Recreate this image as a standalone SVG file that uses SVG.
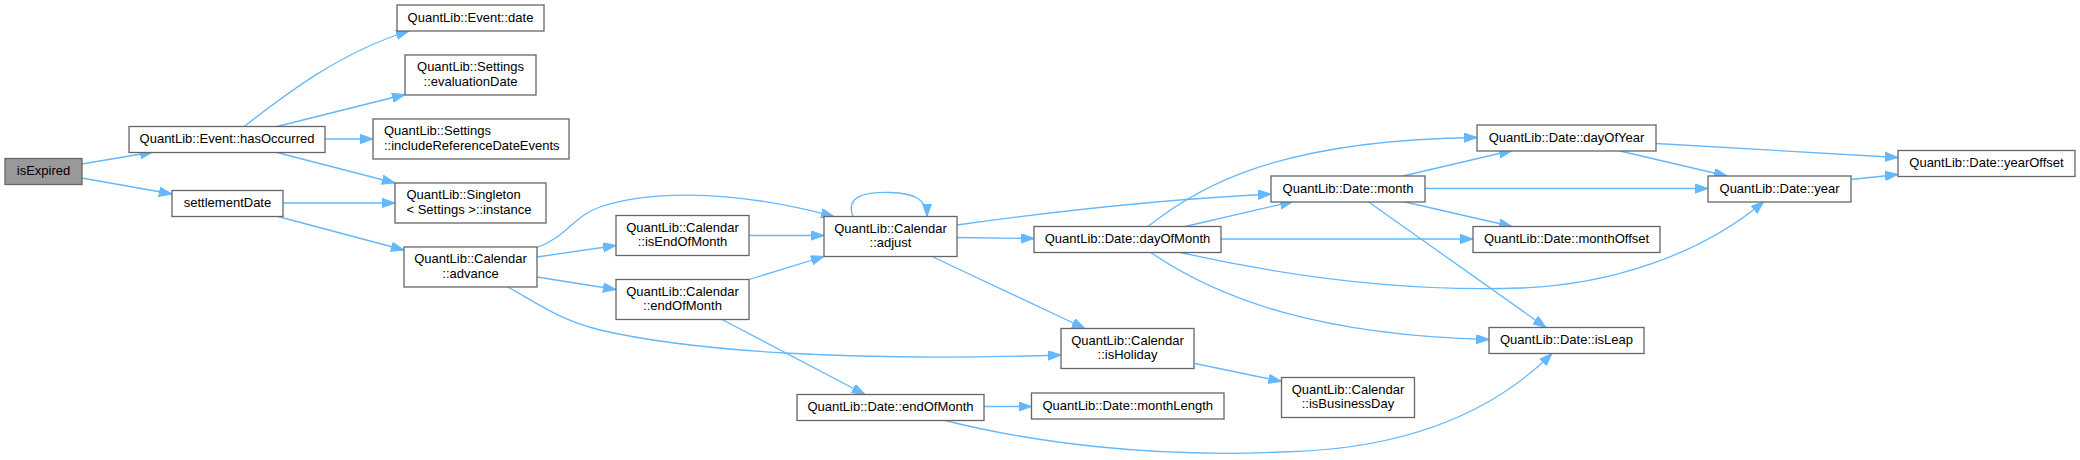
<svg xmlns="http://www.w3.org/2000/svg" width="2080" height="460" viewBox="0 0 2080 460">
<style>
.n rect{fill:#fff;stroke:#666;stroke-width:1.3}
.n.root rect{fill:#999}
.n text{font-family:"Liberation Sans",Arial,sans-serif;font-size:13px;fill:#000;text-anchor:middle}
.n text.l{text-anchor:start}
#edges path{fill:none;stroke:#63B8FF;stroke-width:1.3;marker-end:url(#ah)}
</style>
<defs>
<marker id="ah" markerUnits="userSpaceOnUse" markerWidth="14" markerHeight="10" refX="13" refY="4.65" orient="auto">
<path d="M0,0 L13,4.65 L0,9.3 Z" fill="#63B8FF" stroke="#63B8FF" stroke-width="1"/>
</marker>
</defs>
<rect width="2080" height="460" fill="#fff"/>
<g id="edges">
<path d="M82,164 L153,152"/>
<path d="M82,178 L172,194"/>
<path d="M244,126.5 C285,95 340,52 409,31"/>
<path d="M277,126.5 L405,94.5"/>
<path d="M325,139 L373,139"/>
<path d="M277,152.5 L395,183"/>
<path d="M283,203 L395,203"/>
<path d="M278,216.5 L404,250"/>
<path d="M537,247.5 C565,238 575,215 600,207 C640,193 720,186 834,216.5"/>
<path d="M537,257 L616,245.5"/>
<path d="M537,277 L616,289.5"/>
<path d="M508,287 C540,305 560,320 600,330 C690,351 850,362 1061,355"/>
<path d="M749,235.5 L824,235.5"/>
<path d="M749,279.5 L824,256.5"/>
<path d="M722,319.5 L865,394.5"/>
<path d="M853,216.5 C845,196 865,192 890,192.5 C915,193 927,200 927,216.5"/>
<path d="M957,225 C1050,212 1150,200 1271,194"/>
<path d="M957,237.5 L1034,238.5"/>
<path d="M933,257 L1085,328.5"/>
<path d="M1148,226.5 C1200,185 1280,140 1477,137.5"/>
<path d="M1185,226.5 L1293,201.5"/>
<path d="M1221,239 L1473,239"/>
<path d="M1178,252 C1280,275 1400,292 1520,288 C1610,285 1700,255 1764,201.5"/>
<path d="M1150,252 C1220,300 1320,335 1489,339.5"/>
<path d="M1403,176 L1512,150.5"/>
<path d="M1425,188.5 L1708,188.5"/>
<path d="M1403,201.5 L1512,226.5"/>
<path d="M1368,201.5 L1546,327.5"/>
<path d="M1656,143.5 L1898,157.5"/>
<path d="M1620,151 L1727,176"/>
<path d="M1851,179.5 L1898,174.5"/>
<path d="M1195,363.5 L1281.5,381.5"/>
<path d="M984,406.5 L1031.5,406.5"/>
<path d="M943,420 C1030,442 1150,458 1280,452 C1400,450 1490,415 1552,353.5"/>
</g>
<g id="isExpired" class="n root"><rect x="5" y="158.5" width="77" height="26"/><text x="43.5" y="175">isExpired</text></g>
<g id="hasOccurred" class="n"><rect x="129" y="126.5" width="196" height="26"/><text x="227" y="143">QuantLib::Event::hasOccurred</text></g>
<g id="settlementDate" class="n"><rect x="172" y="190.5" width="111" height="26"/><text x="227.5" y="207">settlementDate</text></g>
<g id="eventDate" class="n"><rect x="397" y="5" width="147" height="26"/><text x="470.5" y="21.5">QuantLib::Event::date</text></g>
<g id="evaluationDate" class="n"><rect x="405" y="55" width="131" height="40"/><text x="470.5" y="71">QuantLib::Settings</text><text x="470.5" y="85.5">::evaluationDate</text></g>
<g id="includeRef" class="n"><rect x="373" y="119" width="196" height="40"/><text class="l" x="384" y="135">QuantLib::Settings</text><text class="l" x="384" y="149.5">::includeReferenceDateEvents</text></g>
<g id="singleton" class="n"><rect x="395" y="183" width="151" height="40"/><text class="l" x="406.5" y="199">QuantLib::Singleton</text><text class="l" x="406.5" y="213.5">&lt; Settings &gt;::instance</text></g>
<g id="advance" class="n"><rect x="404" y="247" width="133" height="40"/><text x="470.5" y="263">QuantLib::Calendar</text><text x="470.5" y="277.5">::advance</text></g>
<g id="isEndOfMonth" class="n"><rect x="616" y="215.5" width="133" height="40"/><text x="682.5" y="231.5">QuantLib::Calendar</text><text x="682.5" y="246">::isEndOfMonth</text></g>
<g id="calEndOfMonth" class="n"><rect x="616" y="279.5" width="133" height="40"/><text x="682.5" y="295.5">QuantLib::Calendar</text><text x="682.5" y="310">::endOfMonth</text></g>
<g id="adjust" class="n"><rect x="824" y="216.5" width="133" height="40"/><text x="890.5" y="232.5">QuantLib::Calendar</text><text x="890.5" y="247">::adjust</text></g>
<g id="dayOfMonth" class="n"><rect x="1034" y="226.5" width="187" height="26"/><text x="1127.5" y="243">QuantLib::Date::dayOfMonth</text></g>
<g id="isHoliday" class="n"><rect x="1061" y="328.5" width="133" height="40"/><text x="1127.5" y="344.5">QuantLib::Calendar</text><text x="1127.5" y="359">::isHoliday</text></g>
<g id="month" class="n"><rect x="1271" y="176" width="154" height="26"/><text x="1348" y="192.5">QuantLib::Date::month</text></g>
<g id="dateEndOfMonth" class="n"><rect x="797" y="394.5" width="187" height="26"/><text x="890.5" y="411">QuantLib::Date::endOfMonth</text></g>
<g id="monthLength" class="n"><rect x="1031.5" y="393" width="192.5" height="26"/><text x="1127.75" y="409.5">QuantLib::Date::monthLength</text></g>
<g id="isBusinessDay" class="n"><rect x="1281.5" y="377.5" width="133" height="40"/><text x="1348" y="393.5">QuantLib::Calendar</text><text x="1348" y="408">::isBusinessDay</text></g>
<g id="dayOfYear" class="n"><rect x="1477" y="125" width="179" height="26"/><text x="1566.5" y="141.5">QuantLib::Date::dayOfYear</text></g>
<g id="monthOffset" class="n"><rect x="1473" y="226.5" width="187" height="26"/><text x="1566.5" y="243">QuantLib::Date::monthOffset</text></g>
<g id="isLeap" class="n"><rect x="1489" y="327.5" width="155" height="26"/><text x="1566.5" y="344">QuantLib::Date::isLeap</text></g>
<g id="year" class="n"><rect x="1708" y="176" width="143" height="26"/><text x="1779.5" y="192.5">QuantLib::Date::year</text></g>
<g id="yearOffset" class="n"><rect x="1898" y="150.5" width="177" height="26"/><text x="1986.5" y="167">QuantLib::Date::yearOffset</text></g>
</svg>
